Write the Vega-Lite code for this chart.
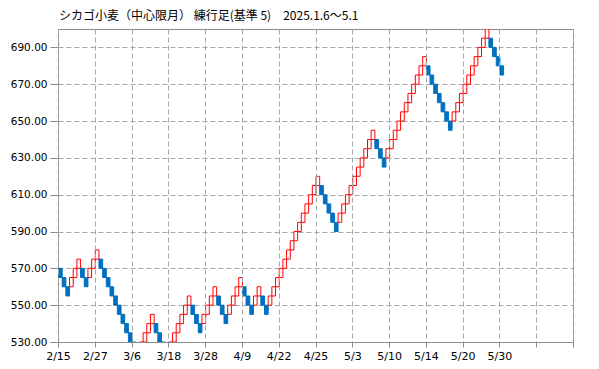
{
  "$schema": "https://vega.github.io/schema/vega-lite/v6.json",
  "autosize": {"type": "none"},
  "width": 515,
  "height": 313,
  "padding": {"left": 58, "top": 29, "right": 26, "bottom": 27},
  "background": "#ffffff",
  "title": {
    "text": "シカゴ小麦（中心限月） 練行足(基準 5)　2025.1.6～5.1",
    "anchor": "start",
    "frame": "group",
    "font": "Noto Sans CJK JP",
    "fontSize": 12,
    "fontWeight": "normal",
    "color": "#000000",
    "offset": 6,
    "dx": 1
  },
  "data": {
    "values": [
      {"i": 0, "lo": 565, "hi": 570, "d": "down"},
      {"i": 1, "lo": 560, "hi": 565, "d": "down"},
      {"i": 2, "lo": 555, "hi": 560, "d": "down"},
      {"i": 3, "lo": 560, "hi": 565, "d": "up"},
      {"i": 4, "lo": 565, "hi": 570, "d": "up"},
      {"i": 5, "lo": 570, "hi": 575, "d": "up"},
      {"i": 6, "lo": 565, "hi": 570, "d": "down"},
      {"i": 7, "lo": 560, "hi": 565, "d": "down"},
      {"i": 8, "lo": 565, "hi": 570, "d": "up"},
      {"i": 9, "lo": 570, "hi": 575, "d": "up"},
      {"i": 10, "lo": 575, "hi": 580, "d": "up"},
      {"i": 11, "lo": 570, "hi": 575, "d": "down"},
      {"i": 12, "lo": 565, "hi": 570, "d": "down"},
      {"i": 13, "lo": 560, "hi": 565, "d": "down"},
      {"i": 14, "lo": 555, "hi": 560, "d": "down"},
      {"i": 15, "lo": 550, "hi": 555, "d": "down"},
      {"i": 16, "lo": 545, "hi": 550, "d": "down"},
      {"i": 17, "lo": 540, "hi": 545, "d": "down"},
      {"i": 18, "lo": 535, "hi": 540, "d": "down"},
      {"i": 19, "lo": 530, "hi": 535, "d": "down"},
      {"i": 20, "lo": 525, "hi": 530, "d": "down"},
      {"i": 21, "lo": 520, "hi": 525, "d": "down"},
      {"i": 22, "lo": 525, "hi": 530, "d": "up"},
      {"i": 23, "lo": 530, "hi": 535, "d": "up"},
      {"i": 24, "lo": 535, "hi": 540, "d": "up"},
      {"i": 25, "lo": 540, "hi": 545, "d": "up"},
      {"i": 26, "lo": 535, "hi": 540, "d": "down"},
      {"i": 27, "lo": 530, "hi": 535, "d": "down"},
      {"i": 28, "lo": 525, "hi": 530, "d": "down"},
      {"i": 29, "lo": 520, "hi": 525, "d": "down"},
      {"i": 30, "lo": 525, "hi": 530, "d": "up"},
      {"i": 31, "lo": 530, "hi": 535, "d": "up"},
      {"i": 32, "lo": 535, "hi": 540, "d": "up"},
      {"i": 33, "lo": 540, "hi": 545, "d": "up"},
      {"i": 34, "lo": 545, "hi": 550, "d": "up"},
      {"i": 35, "lo": 550, "hi": 555, "d": "up"},
      {"i": 36, "lo": 545, "hi": 550, "d": "down"},
      {"i": 37, "lo": 540, "hi": 545, "d": "down"},
      {"i": 38, "lo": 535, "hi": 540, "d": "down"},
      {"i": 39, "lo": 540, "hi": 545, "d": "up"},
      {"i": 40, "lo": 545, "hi": 550, "d": "up"},
      {"i": 41, "lo": 550, "hi": 555, "d": "up"},
      {"i": 42, "lo": 555, "hi": 560, "d": "up"},
      {"i": 43, "lo": 550, "hi": 555, "d": "down"},
      {"i": 44, "lo": 545, "hi": 550, "d": "down"},
      {"i": 45, "lo": 540, "hi": 545, "d": "down"},
      {"i": 46, "lo": 545, "hi": 550, "d": "up"},
      {"i": 47, "lo": 550, "hi": 555, "d": "up"},
      {"i": 48, "lo": 555, "hi": 560, "d": "up"},
      {"i": 49, "lo": 560, "hi": 565, "d": "up"},
      {"i": 50, "lo": 555, "hi": 560, "d": "down"},
      {"i": 51, "lo": 550, "hi": 555, "d": "down"},
      {"i": 52, "lo": 545, "hi": 550, "d": "down"},
      {"i": 53, "lo": 550, "hi": 555, "d": "up"},
      {"i": 54, "lo": 555, "hi": 560, "d": "up"},
      {"i": 55, "lo": 550, "hi": 555, "d": "down"},
      {"i": 56, "lo": 545, "hi": 550, "d": "down"},
      {"i": 57, "lo": 550, "hi": 555, "d": "up"},
      {"i": 58, "lo": 555, "hi": 560, "d": "up"},
      {"i": 59, "lo": 560, "hi": 565, "d": "up"},
      {"i": 60, "lo": 565, "hi": 570, "d": "up"},
      {"i": 61, "lo": 570, "hi": 575, "d": "up"},
      {"i": 62, "lo": 575, "hi": 580, "d": "up"},
      {"i": 63, "lo": 580, "hi": 585, "d": "up"},
      {"i": 64, "lo": 585, "hi": 590, "d": "up"},
      {"i": 65, "lo": 590, "hi": 595, "d": "up"},
      {"i": 66, "lo": 595, "hi": 600, "d": "up"},
      {"i": 67, "lo": 600, "hi": 605, "d": "up"},
      {"i": 68, "lo": 605, "hi": 610, "d": "up"},
      {"i": 69, "lo": 610, "hi": 615, "d": "up"},
      {"i": 70, "lo": 615, "hi": 620, "d": "up"},
      {"i": 71, "lo": 610, "hi": 615, "d": "down"},
      {"i": 72, "lo": 605, "hi": 610, "d": "down"},
      {"i": 73, "lo": 600, "hi": 605, "d": "down"},
      {"i": 74, "lo": 595, "hi": 600, "d": "down"},
      {"i": 75, "lo": 590, "hi": 595, "d": "down"},
      {"i": 76, "lo": 595, "hi": 600, "d": "up"},
      {"i": 77, "lo": 600, "hi": 605, "d": "up"},
      {"i": 78, "lo": 605, "hi": 610, "d": "up"},
      {"i": 79, "lo": 610, "hi": 615, "d": "up"},
      {"i": 80, "lo": 615, "hi": 620, "d": "up"},
      {"i": 81, "lo": 620, "hi": 625, "d": "up"},
      {"i": 82, "lo": 625, "hi": 630, "d": "up"},
      {"i": 83, "lo": 630, "hi": 635, "d": "up"},
      {"i": 84, "lo": 635, "hi": 640, "d": "up"},
      {"i": 85, "lo": 640, "hi": 645, "d": "up"},
      {"i": 86, "lo": 635, "hi": 640, "d": "down"},
      {"i": 87, "lo": 630, "hi": 635, "d": "down"},
      {"i": 88, "lo": 625, "hi": 630, "d": "down"},
      {"i": 89, "lo": 630, "hi": 635, "d": "up"},
      {"i": 90, "lo": 635, "hi": 640, "d": "up"},
      {"i": 91, "lo": 640, "hi": 645, "d": "up"},
      {"i": 92, "lo": 645, "hi": 650, "d": "up"},
      {"i": 93, "lo": 650, "hi": 655, "d": "up"},
      {"i": 94, "lo": 655, "hi": 660, "d": "up"},
      {"i": 95, "lo": 660, "hi": 665, "d": "up"},
      {"i": 96, "lo": 665, "hi": 670, "d": "up"},
      {"i": 97, "lo": 670, "hi": 675, "d": "up"},
      {"i": 98, "lo": 675, "hi": 680, "d": "up"},
      {"i": 99, "lo": 680, "hi": 685, "d": "up"},
      {"i": 100, "lo": 675, "hi": 680, "d": "down"},
      {"i": 101, "lo": 670, "hi": 675, "d": "down"},
      {"i": 102, "lo": 665, "hi": 670, "d": "down"},
      {"i": 103, "lo": 660, "hi": 665, "d": "down"},
      {"i": 104, "lo": 655, "hi": 660, "d": "down"},
      {"i": 105, "lo": 650, "hi": 655, "d": "down"},
      {"i": 106, "lo": 645, "hi": 650, "d": "down"},
      {"i": 107, "lo": 650, "hi": 655, "d": "up"},
      {"i": 108, "lo": 655, "hi": 660, "d": "up"},
      {"i": 109, "lo": 660, "hi": 665, "d": "up"},
      {"i": 110, "lo": 665, "hi": 670, "d": "up"},
      {"i": 111, "lo": 670, "hi": 675, "d": "up"},
      {"i": 112, "lo": 675, "hi": 680, "d": "up"},
      {"i": 113, "lo": 680, "hi": 685, "d": "up"},
      {"i": 114, "lo": 685, "hi": 690, "d": "up"},
      {"i": 115, "lo": 690, "hi": 695, "d": "up"},
      {"i": 116, "lo": 695, "hi": 700, "d": "up"},
      {"i": 117, "lo": 690, "hi": 695, "d": "down"},
      {"i": 118, "lo": 685, "hi": 690, "d": "down"},
      {"i": 119, "lo": 680, "hi": 685, "d": "down"},
      {"i": 120, "lo": 675, "hi": 680, "d": "down"}
    ]
  },
  "mark": {"type": "rect", "strokeWidth": 1, "clip": true},
  "encoding": {
    "x": {
      "field": "i",
      "type": "quantitative",
      "bin": {"step": 1, "extent": [0, 140]},
      "scale": {"domain": [0, 140], "nice": false, "zero": false},
      "axis": {
        "title": null,
        "values": [0, 10, 20, 30, 40, 50, 60, 70, 80, 90, 100, 110, 120, 130, 140],
        "labelExpr": "['2/15','2/27','3/6','3/18','3/28','4/9','4/22','4/25','5/3','5/10','5/14','5/20','5/30','',''][round(datum.value/10)]",
        "tickSize": 5,
        "labelPadding": 3,
        "labelFontSize": 11,
        "labelFlush": false,
        "labelOverlap": false
      }
    },
    "y": {
      "field": "lo",
      "type": "quantitative",
      "scale": {"domain": [530, 700], "nice": false, "zero": false},
      "axis": {
        "title": null,
        "values": [530, 550, 570, 590, 610, 630, 650, 670, 690],
        "format": ".2f",
        "tickSize": 8,
        "labelPadding": 3,
        "labelFontSize": 10.5
      }
    },
    "y2": {"field": "hi"},
    "fill": {
      "field": "d",
      "type": "nominal",
      "scale": {"domain": ["up", "down"], "range": ["#ffffff", "#0070c0"]},
      "legend": null
    },
    "stroke": {
      "field": "d",
      "type": "nominal",
      "scale": {"domain": ["up", "down"], "range": ["#ff0000", "#0070c0"]},
      "legend": null
    }
  },
  "config": {
    "view": {"stroke": "#8c8c8c", "strokeWidth": 1},
    "axis": {
      "grid": true,
      "gridColor": "#a6a6a6",
      "gridDash": [5, 3],
      "gridWidth": 1,
      "domainColor": "#8c8c8c",
      "tickColor": "#8c8c8c",
      "labelColor": "#000000",
      "labelFont": "DejaVu Sans"
    }
  }
}
